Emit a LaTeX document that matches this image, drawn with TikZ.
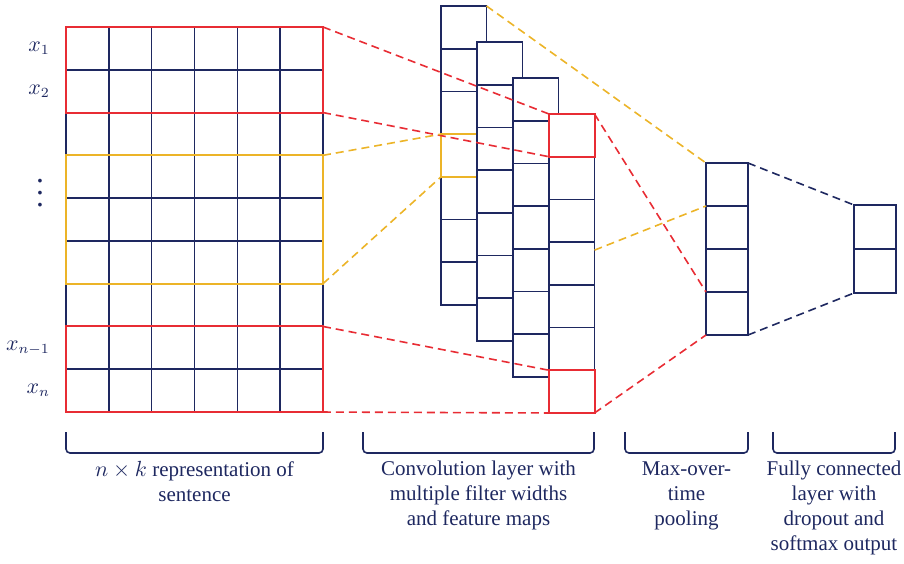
\documentclass[tikz,border=0pt]{standalone}
\usepackage{fontspec}
\setmainfont{Liberation Serif}
\usepackage{tikz}
\usetikzlibrary{positioning, fit}
\definecolor{DeepNavy}{RGB}{30, 40, 96}
\definecolor{SelRed}{RGB}{232, 44, 52}
\definecolor{SelGold}{RGB}{236, 180, 40}

\begin{document}
\begin{tikzpicture}[x=0.5pt, y=-0.5pt,
  cell/.style={draw=DeepNavy, fill=white, line width=0.8pt, inner sep=0pt, outer sep=0pt,
               anchor=north west, minimum width=21.42pt, minimum height=21.39pt},
  fcell/.style={cell, minimum width=22.75pt, minimum height=21.36pt},
  pcell/.style={cell, minimum width=21pt, minimum height=21.5pt},
  ocell/.style={cell, minimum width=21pt, minimum height=22pt},
  redbox/.style={draw=SelRed, line width=1pt, inner sep=0pt, outer sep=0pt},
  goldbox/.style={redbox, draw=SelGold},
  link/.style={line width=0.8pt, dash pattern=on 4pt off 2.5pt},
  redlink/.style={link, SelRed},
  goldlink/.style={link, SelGold},
  navylink/.style={link, DeepNavy},
  rowlab/.style={text=DeepNavy, font=\fontsize{10.5}{12.5}\selectfont},
  bracket/.style={draw=DeepNavy, line width=0.8pt, rounded corners=2pt},
  caption/.style={text=DeepNavy, align=center, inner sep=0pt, font=\fontsize{10.5}{12.5}\selectfont}]

\useasboundingbox (0,0) rectangle (904,563);

\foreach \r in {1,...,9}
  \foreach \c in {1,...,6}
    \node[cell] (m-\r-\c) at ({66+(\c-1)*42.83},{27+(\r-1)*42.78}) {};
\node[redbox, fit=(m-1-1)(m-2-6)] (sel-a) {};
\node[goldbox, fit=(m-4-1)(m-6-6)] (sel-b) {};
\node[redbox, fit=(m-8-1)(m-9-6)] (sel-c) {};

\node[rowlab, left=4.5pt of m-1-1] (lab-1) {$x_1$};
\node[rowlab, left=4.5pt of m-2-1] (lab-2) {$x_2$};
\node[rowlab, scale=1.5] (lab-dots) at ([xshift=-13pt, yshift=7pt]m-5-1.north west) {$\vdots$};
\node[rowlab, left=4.5pt of m-8-1] (lab-8) {$x_{n-1}$};
\node[rowlab, left=4.5pt of m-9-1] (lab-9) {$x_n$};

\foreach \j in {1,...,7}
  \node[fcell] (f1-\j) at (441,{6+(\j-1)*42.71}) {};
\node[goldbox, fit=(f1-4)] (sel-e) {};
\foreach \j in {1,...,7}
  \node[fcell] (f2-\j) at (477,{42+(\j-1)*42.71}) {};
\foreach \j in {1,...,7}
  \node[fcell] (f3-\j) at (513,{78+(\j-1)*42.71}) {};
\foreach \j in {1,...,7}
  \node[fcell] (f4-\j) at (549,{114+(\j-1)*42.71}) {};
\node[redbox, fit=(f4-1)] (sel-d) {};
\node[redbox, fit=(f4-7)] (sel-f) {};

\foreach \j in {1,...,4}
  \node[pcell] (p-\j) at (706,{163+(\j-1)*43}) {};
\foreach \j in {1,2}
  \node[ocell] (o-\j) at (854,{205+(\j-1)*44}) {};

\draw[redlink] (sel-a.north east) -- (sel-d.north west);
\draw[redlink] (sel-a.south east) -- (sel-d.south west);
\draw[goldlink] (sel-b.north east) -- (sel-e.north west);
\draw[goldlink] (sel-b.south east) -- (sel-e.south west);
\draw[redlink] (sel-c.north east) -- (sel-f.north west);
\draw[redlink] (sel-c.south east) -- (sel-f.south west);
\draw[goldlink] (f1-1.north east) -- (p-1.north west);
\draw[goldlink] ([yshift=-4pt]f4-4.north east) -- (p-2.north west);
\draw[redlink] (sel-d.north east) -- (p-4.north west);
\draw[redlink] (sel-f.south east) -- (p-4.south west);
\draw[navylink] (p-1.north east) -- (o-1.north west);
\draw[navylink] (p-4.south east) -- (o-2.south west);

\coordinate (br-1) at (194.5,453);
\coordinate (br-2) at (478.5,453);
\coordinate (br-3) at (686.5,453);
\coordinate (br-4) at (834,453);
\draw[bracket] (66,432) |- (br-1) -| (323,432);
\draw[bracket] (363,432) |- (br-2) -| (594,432);
\draw[bracket] (625,432) |- (br-3) -| (748,432);
\draw[bracket] (773,432) |- (br-4) -| (895,432);
\node[caption, below=4pt of br-1] (cap-1) {$n \times k$ representation of\\sentence};
\node[caption, below=4pt of br-2] (cap-2) {Convolution layer with\\multiple filter widths\\and feature maps};
\node[caption, below=4pt of br-3] (cap-3) {Max-over-\\time\\pooling};
\node[caption, below=4pt of br-4] (cap-4) {Fully connected\\layer with\\dropout and\\softmax output};
\end{tikzpicture}
\end{document}
